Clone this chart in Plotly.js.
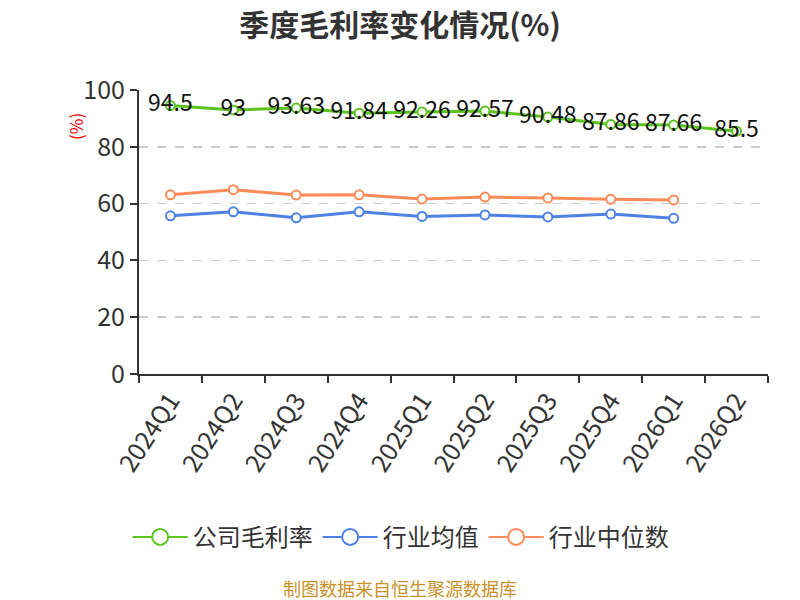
<!DOCTYPE html>
<html>
<head>
<meta charset="utf-8">
<script src="https://cdn.plot.ly/plotly-3.0.1.min.js"></script>
<style>html,body{margin:0;padding:0;background:#fff;}#chart{width:800px;height:600px;}</style>
</head>
<body>
<div id="chart"></div>
<script>
const categories = ["2024Q1","2024Q2","2024Q3","2024Q4","2025Q1","2025Q2","2025Q3","2025Q4","2026Q1","2026Q2"];
const companyMargin = [94.5, 93, 93.63, 91.84, 92.26, 92.57, 90.48, 87.86, 87.66, 85.5];
const industryMean = [55.7, 57.1, 55.0, 57.1, 55.5, 56.0, 55.3, 56.3, 54.8];
const industryMedian = [63.1, 64.9, 63.0, 63.1, 61.6, 62.3, 62.0, 61.5, 61.3];
const seriesNames = ["公司毛利率", "行业均值", "行业中位数"];
const yTicks = [0, 20, 40, 60, 80, 100];

const FONT = '"Noto Sans CJK SC", "Noto Sans", sans-serif';
const colors = ["#5bc41f", "#4f81e5", "#fe8a57"];

function mk(name, ys, color, withText) {
  return {
    type: "scatter",
    mode: withText ? "lines+markers+text" : "lines+markers",
    name: name,
    showlegend: false,
    x: categories.slice(0, ys.length),
    y: ys,
    text: withText ? ys.map(v => String(v)) : undefined,
    textposition: "middle center",
    textfont: {family: FONT, size: 23, color: "#111"},
    line: {color: color, width: 3},
    marker: {symbol: "circle", size: 9, color: "#fff", line: {color: color, width: 2}},
    cliponaxis: false,
    hoverinfo: "x+y"
  };
}
function legendItem(name, color) {
  return {
    type: "scatter", mode: "lines+markers", name: name,
    x: [null], y: [null], showlegend: true,
    line: {color: color, width: 2},
    marker: {symbol: "circle", size: 19, color: "#fff", line: {color: color, width: 2}},
    hoverinfo: "skip"
  };
}

const data = [
  mk(seriesNames[0], companyMargin, colors[0], true),
  mk(seriesNames[1], industryMean, colors[1], false),
  mk(seriesNames[2], industryMedian, colors[2], false),
  legendItem(seriesNames[0], colors[0]),
  legendItem(seriesNames[1], colors[1]),
  legendItem(seriesNames[2], colors[2])
];

const layout = {
  width: 800, height: 600,
  paper_bgcolor: "#fff", plot_bgcolor: "#fff",
  margin: {l: 139, r: 32, t: 90, b: 226},
  font: {family: FONT, color: "#333"},
  title: {text: "<b>季度毛利率变化情况(%)</b>", font: {family: FONT, size: 30, color: "#333"}, x: 0.5, xanchor: "center", y: 0.958, yanchor: "middle"},
  showlegend: true,
  legend: {orientation: "h", x: 0.416, xanchor: "center", y: -0.575, yanchor: "middle",
           font: {family: FONT, size: 24, color: "#333"}, itemwidth: 55, tracegroupgap: 0},
  xaxis: {
    type: "category", categoryorder: "array", categoryarray: categories,
    range: [-0.5, categories.length - 0.5],
    showline: true, linecolor: "#333", linewidth: 2,
    ticks: "outside", tickson: "boundaries", ticklen: 7, tickcolor: "#333", tickwidth: 2,
    tickangle: -57, tickfont: {family: FONT, size: 25, color: "#333"},
    showgrid: false, zeroline: false, fixedrange: true
  },
  yaxis: {
    range: [0, 100], tickvals: yTicks, ticktext: yTicks.map(String),
    showline: true, linecolor: "#333", linewidth: 2,
    ticks: "outside", ticklen: 7, tickcolor: "#333", tickwidth: 2,
    tickfont: {family: FONT, size: 25, color: "#333"},
    showgrid: true, gridcolor: "#cccccc", griddash: "dash", gridwidth: 1.5,
    zeroline: false, fixedrange: true
  },
  annotations: [
    {text: "(%)", xref: "paper", yref: "paper", x: -0.1, y: 0.87, xanchor: "center", yanchor: "middle",
     textangle: -90, showarrow: false, font: {family: FONT, size: 17, color: "#ff0000"}},
    {text: "制图数据来自恒生聚源数据库", xref: "paper", yref: "paper", x: 0.415, xanchor: "center",
     y: -0.755, yanchor: "middle", showarrow: false, font: {family: FONT, size: 18, color: "#c8922a"}}
  ]
};

Plotly.newPlot("chart", data, layout, {displayModeBar: false, staticPlot: true});
</script>
</body>
</html>
